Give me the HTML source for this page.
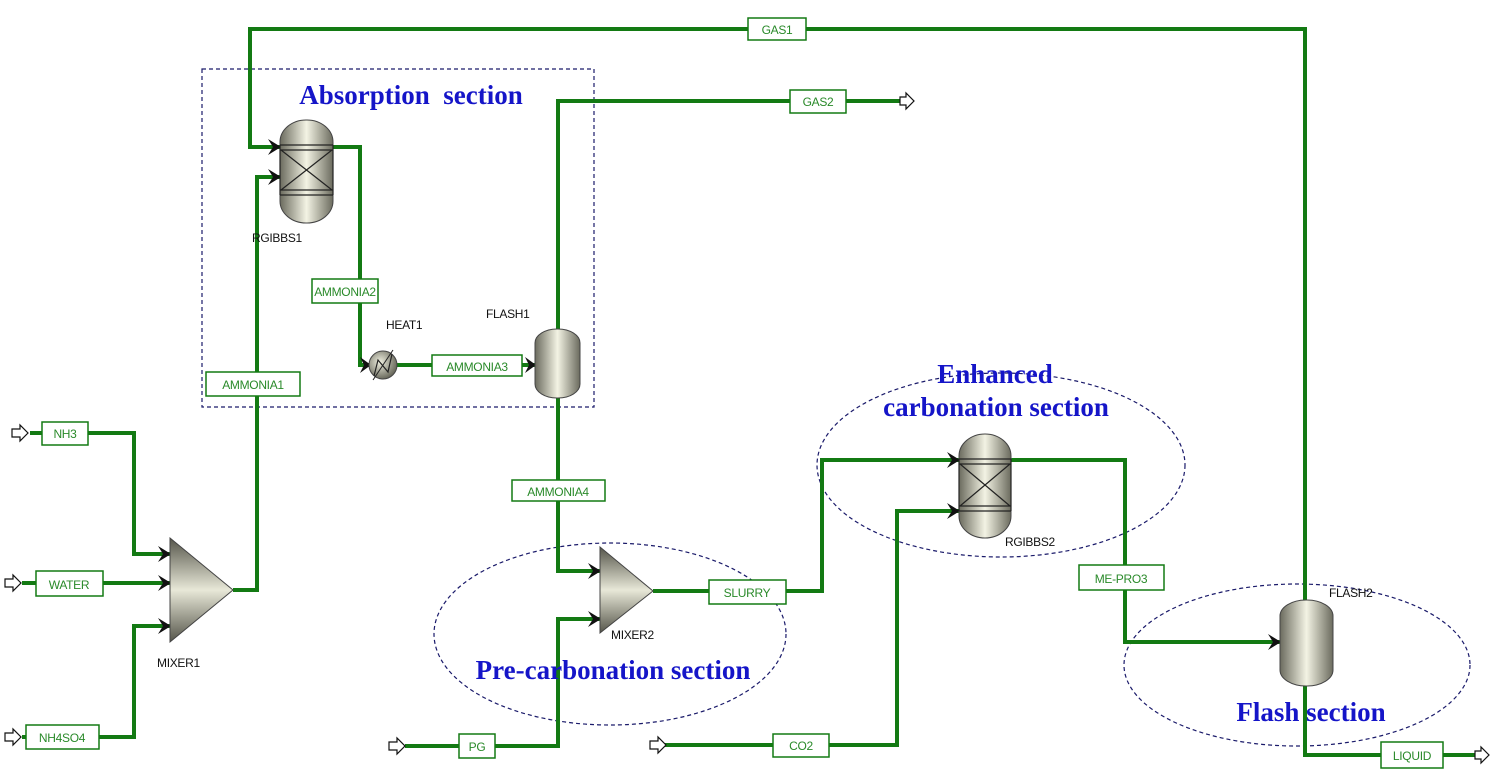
<!DOCTYPE html>
<html><head><meta charset="utf-8"><style>
html,body{margin:0;padding:0;background:#fff;}
svg{display:block}
.ln{fill:none;stroke:#137a13;stroke-width:4;stroke-linejoin:miter}
.bx{fill:#fff;stroke:#137a13;stroke-width:1.5}
.bt{font-family:"Liberation Sans",sans-serif;font-size:12px;fill:#2a8a2a;text-anchor:middle;letter-spacing:-0.3px}
.lb{font-family:"Liberation Sans",sans-serif;font-size:12px;fill:#111;letter-spacing:-0.3px}
.sec{font-family:"Liberation Serif",serif;font-weight:bold;font-size:27px;fill:#1515c8;text-anchor:middle}
.dash{fill:none;stroke:#1a1a6a;stroke-width:1.2;stroke-dasharray:4,3}
.ar{fill:#fff;stroke:#111;stroke-width:1.2}
</style></head><body>
<svg width="1500" height="777" viewBox="0 0 1500 777" xmlns="http://www.w3.org/2000/svg">
<defs>
<linearGradient id="g" x1="0" y1="0" x2="1" y2="0">
<stop offset="0" stop-color="#6b6b5e"/><stop offset="0.5" stop-color="#f3f3e4"/><stop offset="1" stop-color="#6b6b5e"/></linearGradient>
<linearGradient id="gt" x1="0" y1="0" x2="0" y2="1">
<stop offset="0" stop-color="#55554a"/><stop offset="0.5" stop-color="#e8e8d8"/><stop offset="1" stop-color="#55554a"/></linearGradient>
<radialGradient id="gr" cx="0.4" cy="0.4" r="0.6"><stop offset="0" stop-color="#f0f0e0"/><stop offset="1" stop-color="#6b6b5e"/></radialGradient>
</defs>

<rect class="dash" x="202" y="69" width="392" height="338"/>
<ellipse class="dash" cx="610" cy="634" rx="176" ry="91"/>
<ellipse class="dash" cx="1001" cy="465" rx="184" ry="92"/>
<ellipse class="dash" cx="1297" cy="665" rx="173" ry="81"/>

<polyline class="ln" points="280,147 250,147 250,29 1305,29 1305,600"/>
<polyline class="ln" points="333,147 360,147 360,365 370,365"/>
<polyline class="ln" points="397,365 535,365"/>
<polyline class="ln" points="558,330 558,101 900,101"/>
<polyline class="ln" points="233,590 257,590 257,177 280,177"/>
<polyline class="ln" points="30,433 134,433 134,554 170,554"/>
<polyline class="ln" points="22,583 170,583"/>
<polyline class="ln" points="22,737 134,737 134,626 170,626"/>
<polyline class="ln" points="558,398 558,571 600,571"/>
<polyline class="ln" points="405,746 558,746 558,619 600,619"/>
<polyline class="ln" points="653,591 822,591 822,460 959,460"/>
<polyline class="ln" points="665,745 897,745 897,511 959,511"/>
<polyline class="ln" points="1011,460 1125,460 1125,642 1280,642"/>
<polyline class="ln" points="1305,686 1305,755 1475,755"/>

<g fill="#111">
<path d="M268,139 L281,147 L268,155 L273,147 Z"/>
<path d="M268,169 L281,177 L268,185 L273,177 Z"/>
<path d="M360,357 L371,365 L360,373 L364,365 Z"/>
<path d="M525,357 L536,365 L525,373 L529,365 Z"/>
<path d="M158,546 L171,554 L158,562 L163,554 Z"/>
<path d="M158,575 L171,583 L158,591 L163,583 Z"/>
<path d="M158,618 L171,626 L158,634 L163,626 Z"/>
<path d="M588,563 L601,571 L588,579 L593,571 Z"/>
<path d="M588,611 L601,619 L588,627 L593,619 Z"/>
<path d="M947,452 L960,460 L947,468 L952,460 Z"/>
<path d="M947,503 L960,511 L947,519 L952,511 Z"/>
<path d="M1268,634 L1281,642 L1268,650 L1273,642 Z"/>
</g>

<path class="ar" d="M12,429 h8 v-4 l8,8 l-8,8 v-4 h-8 z"/>
<path class="ar" d="M5,579 h8 v-4 l8,8 l-8,8 v-4 h-8 z"/>
<path class="ar" d="M5,733 h8 v-4 l8,8 l-8,8 v-4 h-8 z"/>
<path class="ar" d="M389,742 h8 v-4 l8,8 l-8,8 v-4 h-8 z"/>
<path class="ar" d="M650,741 h8 v-4 l8,8 l-8,8 v-4 h-8 z"/>
<path class="ar" d="M900,97 h6 v-4 l8,8 l-8,8 v-4 h-6 z"/>
<path class="ar" d="M1475,751 h6 v-4 l8,8 l-8,8 v-4 h-6 z"/>

<rect x="280" y="120" width="53" height="103" rx="26" ry="22" fill="url(#g)" stroke="#444"/>
<g stroke="#222" stroke-width="1.2" fill="none">
<line x1="280" y1="145" x2="333" y2="145"/><line x1="280" y1="150" x2="333" y2="150"/>
<line x1="280" y1="190" x2="333" y2="190"/><line x1="280" y1="195" x2="333" y2="195"/>
<line x1="281" y1="150" x2="332" y2="190"/><line x1="332" y1="150" x2="281" y2="190"/>
<line x1="280" y1="145" x2="280" y2="195"/><line x1="333" y1="145" x2="333" y2="195"/></g>
<rect x="959" y="434" width="52" height="104" rx="26" ry="22" fill="url(#g)" stroke="#444"/>
<g stroke="#222" stroke-width="1.2" fill="none">
<line x1="959" y1="459" x2="1011" y2="459"/><line x1="959" y1="464" x2="1011" y2="464"/>
<line x1="959" y1="506" x2="1011" y2="506"/><line x1="959" y1="511" x2="1011" y2="511"/>
<line x1="960" y1="464" x2="1010" y2="506"/><line x1="1010" y1="464" x2="960" y2="506"/>
<line x1="959" y1="459" x2="959" y2="511"/><line x1="1011" y1="459" x2="1011" y2="511"/></g>
<rect x="535" y="329" width="45" height="69" rx="22" ry="14" fill="url(#g)" stroke="#444"/>
<rect x="1280" y="600" width="53" height="86" rx="26" ry="16" fill="url(#g)" stroke="#444"/>
<circle cx="383" cy="365" r="14" fill="url(#gr)" stroke="#444"/>
<polyline points="374,376 378,360 388,372 392,354" fill="none" stroke="#222" stroke-width="1.2"/>
<line x1="373" y1="380" x2="393" y2="350" stroke="#222" stroke-width="1"/>
<polygon points="170,538 233,590 170,642" fill="url(#gt)" stroke="#444"/>
<polygon points="600,547 653,591 600,633" fill="url(#gt)" stroke="#444"/>

<rect class="bx" x="748" y="18" width="58" height="22"/><text class="bt" x="777" y="34">GAS1</text>
<rect class="bx" x="790" y="90" width="56" height="23"/><text class="bt" x="818" y="106">GAS2</text>
<rect class="bx" x="312" y="279" width="66" height="24"/><text class="bt" x="345" y="296">AMMONIA2</text>
<rect class="bx" x="432" y="355" width="90" height="21"/><text class="bt" x="477" y="371">AMMONIA3</text>
<rect class="bx" x="206" y="372" width="94" height="24"/><text class="bt" x="253" y="389">AMMONIA1</text>
<rect class="bx" x="512" y="480" width="93" height="21"/><text class="bt" x="558" y="496">AMMONIA4</text>
<rect class="bx" x="42" y="422" width="46" height="23"/><text class="bt" x="65" y="438">NH3</text>
<rect class="bx" x="36" y="571" width="67" height="25"/><text class="bt" x="69" y="589">WATER</text>
<rect class="bx" x="26" y="725" width="73" height="24"/><text class="bt" x="62" y="742">NH4SO4</text>
<rect class="bx" x="459" y="734" width="36" height="24"/><text class="bt" x="477" y="751">PG</text>
<rect class="bx" x="709" y="580" width="77" height="24"/><text class="bt" x="747" y="597">SLURRY</text>
<rect class="bx" x="773" y="734" width="56" height="23"/><text class="bt" x="801" y="750">CO2</text>
<rect class="bx" x="1079" y="565" width="85" height="25"/><text class="bt" x="1121" y="583">ME-PRO3</text>
<rect class="bx" x="1381" y="742" width="62" height="26"/><text class="bt" x="1412" y="760">LIQUID</text>

<text class="lb" x="252" y="242">RGIBBS1</text>
<text class="lb" x="386" y="329">HEAT1</text>
<text class="lb" x="486" y="318">FLASH1</text>
<text class="lb" x="157" y="667">MIXER1</text>
<text class="lb" x="611" y="639">MIXER2</text>
<text class="lb" x="1005" y="546">RGIBBS2</text>
<text class="lb" x="1329" y="597">FLASH2</text>

<text class="sec" x="411" y="104" xml:space="preserve">Absorption  section</text>
<text class="sec" x="995" y="383">Enhanced</text>
<text class="sec" x="996" y="416">carbonation section</text>
<text class="sec" x="613" y="679">Pre-carbonation section</text>
<text class="sec" x="1311" y="721">Flash section</text>
</svg>
</body></html>
